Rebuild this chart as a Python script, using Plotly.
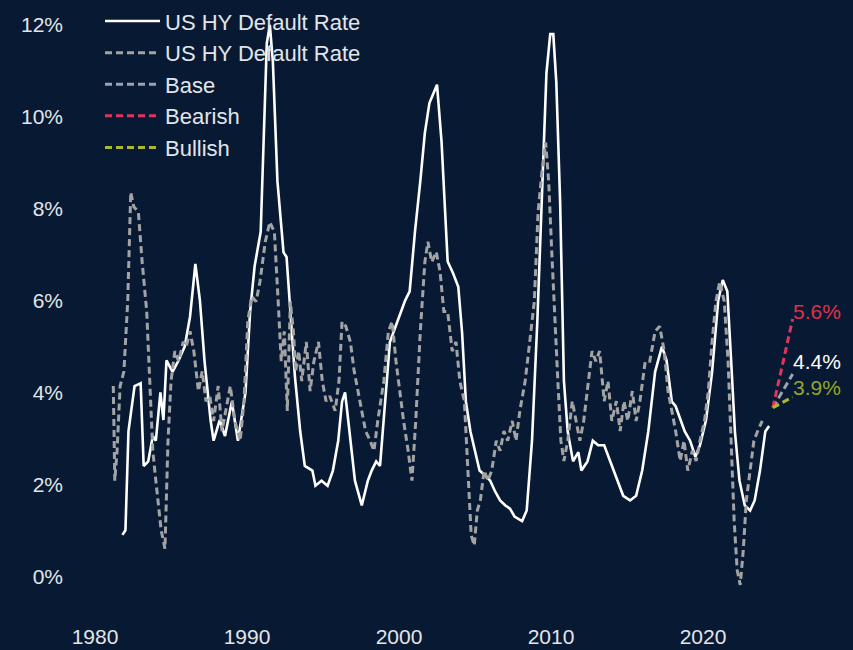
import plotly.graph_objects as go

# ---- Data ----
actual_year = [1981.8, 1982.0, 1982.2, 1982.6, 1983.0, 1983.2, 1983.5, 1983.8, 1984.0, 1984.3,
               1984.5, 1984.7, 1985.1, 1985.5, 1985.9, 1986.25, 1986.6, 1986.9, 1987.2, 1987.6,
               1987.8, 1988.2, 1988.55, 1989.0, 1989.4, 1989.9, 1990.2, 1990.5, 1990.9, 1991.05,
               1991.3, 1991.5, 1991.7, 1992.0, 1992.4, 1992.6, 1992.9, 1993.15, 1993.5, 1993.8,
               1994.3, 1994.5, 1994.9, 1995.3, 1995.65, 1996.0, 1996.25, 1996.45, 1996.7, 1997.1,
               1997.55, 1997.95, 1998.2, 1998.5, 1998.75, 1999.1, 1999.4, 1999.9, 2000.4, 2000.7,
               2001.05, 2001.4, 2001.7, 2002.0, 2002.5, 2002.8, 2003.2, 2003.55, 2003.9, 2004.15,
               2004.4, 2004.7, 2005.0, 2005.3, 2005.65, 2006.0, 2006.3, 2006.65, 2007.0, 2007.3,
               2007.6, 2008.1, 2008.4, 2008.75, 2009.1, 2009.4, 2009.7, 2009.95, 2010.15, 2010.35,
               2010.6, 2010.85, 2011.1, 2011.45, 2011.8, 2012.0, 2012.4, 2012.75, 2013.1, 2013.5,
               2013.9, 2014.35, 2014.75, 2015.2, 2015.6, 2016.0, 2016.4, 2016.85, 2017.3, 2017.6,
               2017.95, 2018.2, 2018.5, 2018.8, 2019.15, 2019.5, 2019.8, 2020.2, 2020.6, 2021.0,
               2021.3, 2021.6, 2021.85, 2022.1, 2022.4, 2022.75, 2023.1, 2023.4, 2023.75, 2024.1,
               2024.35]
actual_rate = [0.9, 1.0, 3.16, 4.14, 4.2, 2.4, 2.5, 3.05, 2.95, 4.0,
               3.4, 4.7, 4.45, 4.7, 5.0, 5.65, 6.8, 6.0, 4.7, 3.4,
               2.95, 3.4, 3.05, 3.8, 2.95, 4.0, 5.75, 6.75, 7.5, 9.0,
               11.6, 12.0, 11.2, 8.6, 7.05, 6.95, 5.55, 4.35, 3.15, 2.4,
               2.3, 1.97, 2.08, 1.97, 2.3, 2.95, 3.8, 4.0, 3.27, 2.08,
               1.54, 2.08, 2.3, 2.5, 2.4, 3.8, 5.1, 5.55, 6.0, 6.2,
               7.5, 8.6, 9.65, 10.3, 10.7, 9.45, 6.85, 6.6, 6.3, 5.3,
               3.8, 3.15, 2.7, 2.3, 2.2, 2.08, 1.86, 1.65, 1.54, 1.47,
               1.3, 1.2, 1.43, 2.95, 5.55, 8.15, 10.95, 11.8, 11.8, 10.75,
               8.15, 4.25, 3.15, 2.5, 2.7, 2.3, 2.5, 2.95, 2.85, 2.85,
               2.5, 2.08, 1.75, 1.65, 1.75, 2.3, 3.15, 4.45, 5.0, 4.7,
               3.8, 3.7, 3.4, 3.15, 2.95, 2.6, 2.85, 3.4, 4.45, 6.0,
               6.45, 6.2, 4.7, 3.15, 2.08, 1.54, 1.43, 1.65, 2.3, 3.15,
               3.27]

model_year = [1981.2, 1981.3, 1981.45, 1981.65, 1981.9, 1982.15, 1982.35, 1982.55, 1982.85, 1983.1,
              1983.4, 1983.6, 1983.8, 1984.0, 1984.15, 1984.35, 1984.6, 1984.8, 1985.0, 1985.25,
              1985.5, 1985.8, 1986.0, 1986.25, 1986.5, 1986.8, 1987.05, 1987.3, 1987.55, 1987.8,
              1988.1, 1988.35, 1988.6, 1988.9, 1989.2, 1989.55, 1989.8, 1990.05, 1990.3, 1990.6,
              1990.85, 1991.2, 1991.5, 1991.8, 1992.05, 1992.25, 1992.45, 1992.65, 1992.85, 1993.05,
              1993.2, 1993.4, 1993.6, 1993.9, 1994.15, 1994.4, 1994.7, 1994.95, 1995.2, 1995.45,
              1995.8, 1996.05, 1996.25, 1996.5, 1996.8, 1997.05, 1997.3, 1997.55, 1997.8, 1998.1,
              1998.35, 1998.6, 1998.8, 1999.0, 1999.3, 1999.55, 1999.8, 2000.05, 2000.3, 2000.6,
              2000.85, 2001.1, 2001.4, 2001.7, 2001.9, 2002.15, 2002.45, 2002.7, 2002.95, 2003.2,
              2003.5, 2003.75, 2004.0, 2004.3, 2004.55, 2004.75, 2004.95, 2005.15, 2005.35, 2005.6,
              2005.85, 2006.1, 2006.4, 2006.65, 2006.9, 2007.15, 2007.45, 2007.7, 2007.95, 2008.3,
              2008.6, 2008.9, 2009.15, 2009.4, 2009.65, 2009.85, 2010.05, 2010.25, 2010.45, 2010.65,
              2010.85, 2011.1, 2011.4, 2011.65, 2011.9, 2012.15, 2012.45, 2012.7, 2012.95, 2013.2,
              2013.5, 2013.75, 2014.0, 2014.3, 2014.55, 2014.8, 2015.05, 2015.35, 2015.6, 2015.85,
              2016.2, 2016.5, 2016.85, 2017.15, 2017.45, 2017.7, 2017.95, 2018.2, 2018.5, 2018.75,
              2019.0, 2019.3, 2019.55, 2019.8, 2020.1, 2020.35, 2020.6, 2020.85, 2021.1, 2021.4,
              2021.65, 2021.85, 2022.05, 2022.25, 2022.45, 2022.65, 2022.85, 2023.1, 2023.35, 2023.6,
              2023.9]
model_rate = [4.14, 2.08, 2.73, 4.14, 4.46, 5.98, 8.36, 8.04, 7.93, 6.84,
              5.76, 4.25, 2.73, 2.08, 1.65, 1.0, 0.6, 2.95, 4.25, 4.9,
              4.68, 5.1, 5.0, 5.33, 4.9, 4.03, 4.46, 3.81, 3.92, 3.38,
              4.14, 3.16, 3.6, 4.14, 3.38, 2.95, 3.81, 5.54, 6.09, 5.98,
              6.41, 7.28, 7.71, 7.49, 5.98, 4.68, 5.33, 3.6, 5.98, 5.33,
              4.46, 4.9, 4.25, 5.1, 4.03, 4.68, 5.1, 4.25, 3.81, 3.92,
              3.6, 4.25, 5.54, 5.44, 5.1, 4.46, 4.03, 3.6, 3.16, 2.95,
              2.73, 3.38, 3.81, 4.25, 5.33, 5.54, 4.68, 4.03, 3.38, 2.73,
              2.08, 3.38, 5.33, 6.84, 7.28, 6.84, 7.06, 6.63, 5.76, 5.76,
              4.9, 5.1, 4.25, 3.81, 2.08, 0.89, 0.67, 1.43, 1.65, 2.3,
              2.08, 2.3, 2.95, 2.73, 3.16, 2.95, 3.38, 2.95, 3.6, 4.25,
              5.1, 5.98, 7.93, 8.79, 9.44, 8.58, 7.06, 5.54, 4.25, 2.95,
              2.51, 2.95, 3.81, 3.38, 2.95, 3.38, 4.25, 4.9, 4.68, 4.9,
              3.81, 4.25, 3.38, 3.81, 3.16, 3.81, 3.38, 4.03, 3.38, 3.81,
              4.68, 4.68, 5.33, 5.44, 4.9, 4.03, 3.6, 3.16, 2.51, 2.95,
              2.3, 2.73, 2.51, 2.95, 3.38, 4.03, 5.11, 5.98, 6.41, 5.98,
              4.68, 2.95, 1.21, 0.13, -0.19, 0.56, 1.65, 2.3, 2.95, 3.16,
              3.38]

forecast_year = [2024.6, 2025.9]
base_rate = [3.67, 4.4]
bearish_rate = [3.67, 5.6]
bullish_rate = [3.67, 3.9]

x_ticks = [1980, 1990, 2000, 2010, 2020]
y_ticks = [0, 2, 4, 6, 8, 10, 12]
y_tick_labels = ["0%", "2%", "4%", "6%", "8%", "10%", "12%"]

# ---- Styling ----
BG = "#081a33"
FONT = "Liberation Sans, Arial, sans-serif"
TXT = "#e2e5ea"
GRAY = "#a3a3a3"
BASE_C = "#9aa4b0"
BEAR_C = "#e0355a"
BULL_C = "#a9b82c"

fig = go.Figure()
fig.add_trace(go.Scatter(x=actual_year, y=actual_rate, mode="lines",
                         name="US HY Default Rate",
                         line=dict(color="#ffffff", width=2.6)))
fig.add_trace(go.Scatter(x=model_year, y=model_rate, mode="lines",
                         name="US HY Default Rate",
                         line=dict(color=GRAY, width=3, dash="7px,4px")))
fig.add_trace(go.Scatter(x=forecast_year, y=base_rate, mode="lines",
                         name="Base",
                         line=dict(color=BASE_C, width=3, dash="7px,4px")))
fig.add_trace(go.Scatter(x=forecast_year, y=bearish_rate, mode="lines",
                         name="Bearish",
                         line=dict(color=BEAR_C, width=3, dash="7px,4px")))
fig.add_trace(go.Scatter(x=forecast_year, y=bullish_rate, mode="lines",
                         name="Bullish",
                         line=dict(color=BULL_C, width=3, dash="7px,4px")))

# end-point labels
for vals, col, ys in [(bearish_rate, "#e0304a", -6), (base_rate, "#ffffff", -1),
                      (bullish_rate, "#95a52a", -4)]:
    fig.add_annotation(x=forecast_year[-1], y=vals[-1], text=f"{vals[-1]:.1f}%",
                       showarrow=False, xanchor="left", yanchor="bottom",
                       xshift=-2, yshift=ys,
                       font=dict(family=FONT, size=21, color=col))

fig.update_layout(
    width=853, height=650,
    paper_bgcolor=BG, plot_bgcolor=BG,
    margin=dict(l=80, r=0, t=10, b=30),
    font=dict(family=FONT, size=21, color=TXT),
    showlegend=True,
    legend=dict(x=0.0259, y=1.021, xanchor="left", yanchor="top",
                bgcolor="rgba(0,0,0,0)", font=dict(size=22, color=TXT),
                traceorder="normal", itemwidth=55),
    xaxis=dict(range=[1979.01, 2029.87], tickmode="array", tickvals=x_ticks,
               showgrid=False, zeroline=False, showline=False,
               ticks="", ticklabelstandoff=2,
               tickfont=dict(family=FONT, size=21, color=TXT)),
    yaxis=dict(range=[-0.953, 12.26], tickmode="array", tickvals=y_ticks,
               ticktext=y_tick_labels,
               showgrid=False, zeroline=False, showline=False,
               ticks="", ticklabelstandoff=16,
               tickfont=dict(family=FONT, size=21, color=TXT)),
)

fig.write_html("out.html", config={"displayModeBar": False},
               post_script="document.body.style.margin='0';")
